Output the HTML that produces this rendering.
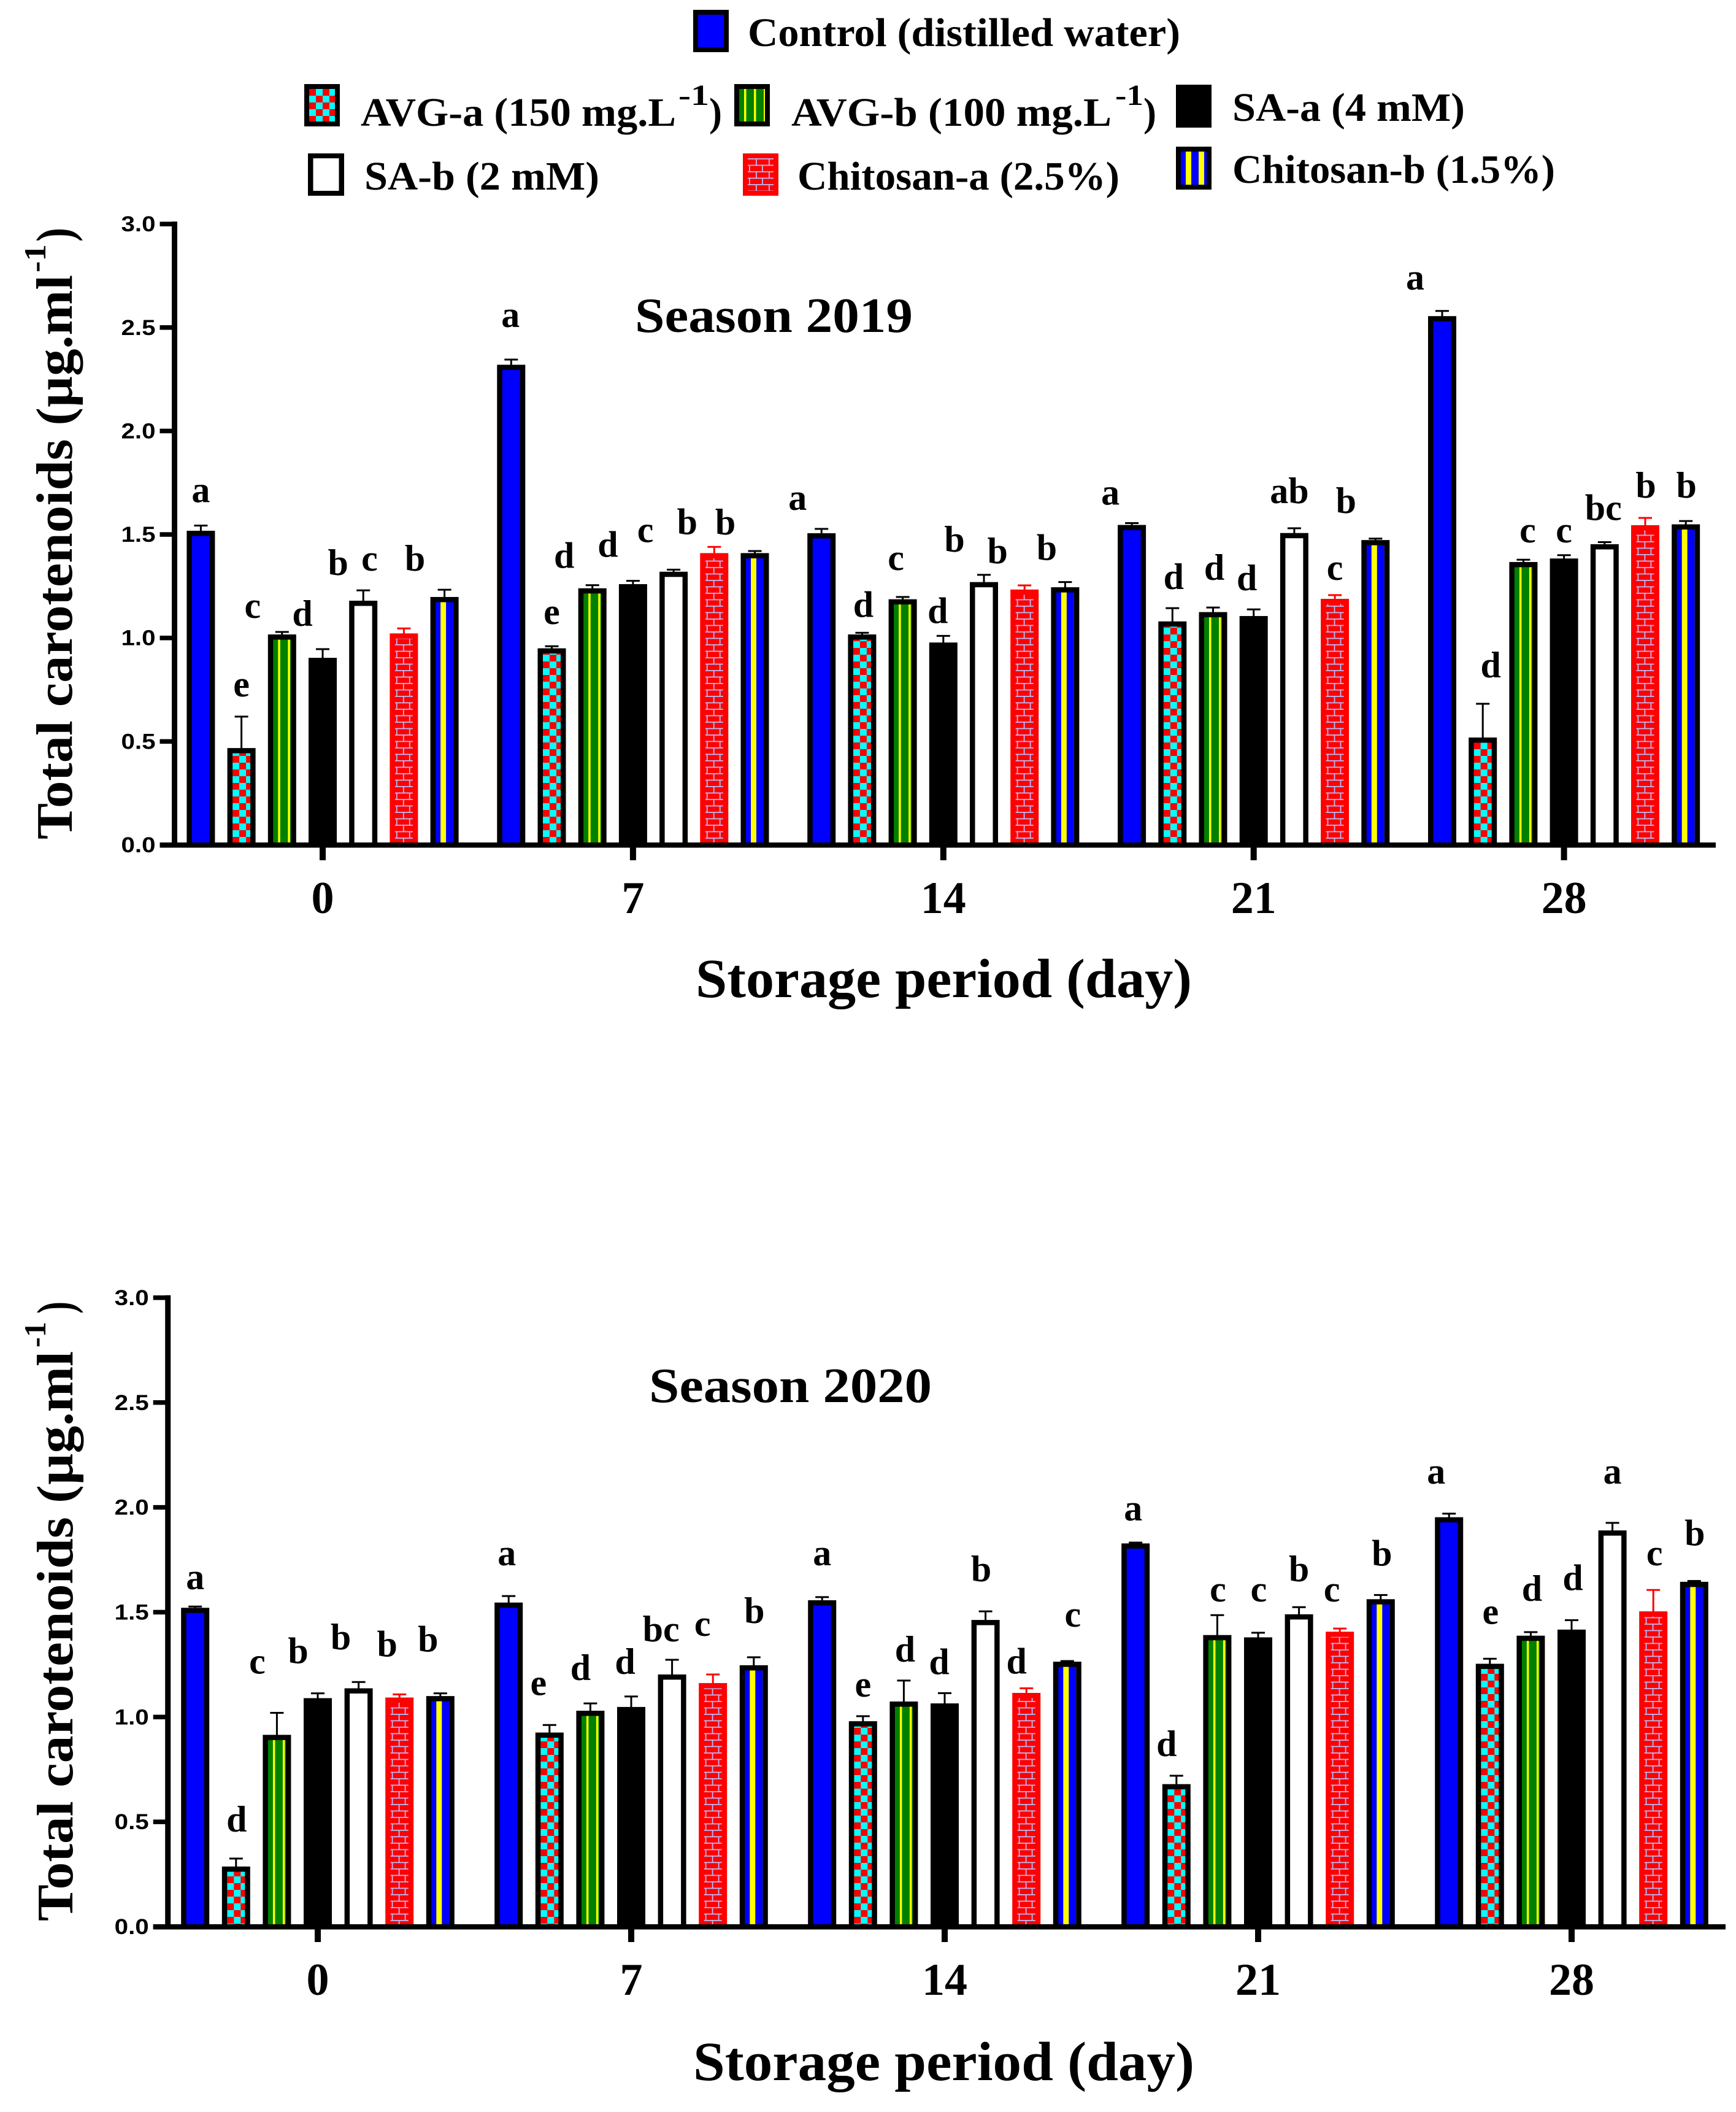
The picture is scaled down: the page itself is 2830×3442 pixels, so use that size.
<!DOCTYPE html>
<html lang="en">
<head>
<meta charset="utf-8">
<title>Total carotenoids by storage period</title>
<style>
html,body{margin:0;padding:0;background:#fff;}
svg{display:block;}
text{font-family:"Liberation Serif",serif;font-weight:bold;fill:#000;}
.tick-y{font-family:"Liberation Sans",sans-serif;font-size:35px;text-anchor:end;}
.tick-x{font-size:74px;text-anchor:middle;}
.letter{font-size:60px;text-anchor:middle;}
.legend-text{font-size:66px;}
.legend-sup{font-size:48px;}
.axis-title{font-size:90px;}
.y-title{font-size:84px;}
.y-sup{font-size:50px;}
.season{font-size:80px;}
</style>
</head>
<body>
<svg id="figure" xmlns="http://www.w3.org/2000/svg" width="2830" height="3442" viewBox="0 0 2830 3442">
  <defs>
    <pattern id="checker" patternUnits="userSpaceOnUse" width="22" height="22">
      <rect width="22" height="22" fill="#00ffff"/>
      <rect x="0" y="0" width="11" height="11" fill="#ff0000"/>
      <rect x="11" y="11" width="11" height="11" fill="#ff0000"/>
    </pattern>
    <pattern id="green-stripes" patternUnits="userSpaceOnUse" width="16" height="16">
      <rect width="16" height="16" fill="#008000"/>
      <rect x="8" y="0" width="3.5" height="16" fill="#ffff00"/>
    </pattern>
    <pattern id="blue-stripes" patternUnits="userSpaceOnUse" width="21" height="21">
      <rect width="21" height="21" fill="#0000ff"/>
      <rect x="8" y="0" width="9" height="21" fill="#ffff00"/>
    </pattern>
    <pattern id="brick" patternUnits="userSpaceOnUse" width="21" height="21">
      <rect width="21" height="21" fill="#ff0000"/>
      <rect x="0" y="0" width="21" height="1.8" fill="#b9b9f5"/>
      <rect x="0" y="10.5" width="21" height="1.8" fill="#b9b9f5"/>
      <rect x="13" y="0" width="1.8" height="10.5" fill="#b9b9f5"/>
      <rect x="2" y="10.5" width="1.8" height="10.5" fill="#b9b9f5"/>
    </pattern>
  </defs>

  <g id="legend">
    <g>
      <rect x="1130" y="16" width="58" height="69" fill="#000"/>
      <rect x="1138" y="24" width="42" height="53" fill="#0000ff"/>
      <text class="legend-text" x="1219" y="75" textLength="705" lengthAdjust="spacingAndGlyphs">Control (distilled water)</text>
    </g>
    <g>
      <rect x="496" y="137" width="58" height="69" fill="#000"/>
      <g transform="translate(504,145)"><rect width="42" height="53" fill="url(#checker)"/></g>
      <text class="legend-text" x="588" y="205" textLength="514" lengthAdjust="spacingAndGlyphs">AVG-a (150 mg.L</text>
      <text class="legend-sup" x="1106" y="171" textLength="50" lengthAdjust="spacingAndGlyphs">-1</text>
      <text class="legend-text" x="1156" y="205" textLength="21" lengthAdjust="spacingAndGlyphs">)</text>
    </g>
    <g>
      <rect x="1197" y="137" width="58" height="69" fill="#000"/>
      <g transform="translate(1205,145)"><rect width="42" height="53" fill="url(#green-stripes)"/></g>
      <text class="legend-text" x="1290" y="205" textLength="522" lengthAdjust="spacingAndGlyphs">AVG-b (100 mg.L</text>
      <text class="legend-sup" x="1818" y="171" textLength="46" lengthAdjust="spacingAndGlyphs">-1</text>
      <text class="legend-text" x="1864" y="205" textLength="21" lengthAdjust="spacingAndGlyphs">)</text>
    </g>
    <g>
      <rect x="1917" y="138" width="58" height="70" fill="#000"/>
      <text class="legend-text" x="2009" y="197" textLength="379" lengthAdjust="spacingAndGlyphs">SA-a (4 mM)</text>
    </g>
    <g>
      <rect x="502" y="250" width="59" height="69" fill="#000"/>
      <rect x="510.5" y="258" width="42" height="53" fill="#fff"/>
      <text class="legend-text" x="594" y="309" textLength="383" lengthAdjust="spacingAndGlyphs">SA-b (2 mM)</text>
    </g>
    <g>
      <rect x="1211" y="250" width="58" height="69" fill="#ff0000"/>
      <g transform="translate(1219,258)"><rect width="42" height="53" fill="url(#brick)"/></g>
      <text class="legend-text" x="1300" y="309" textLength="525" lengthAdjust="spacingAndGlyphs">Chitosan-a (2.5%)</text>
    </g>
    <g>
      <rect x="1917" y="239" width="58" height="70" fill="#000"/>
      <g transform="translate(1925,247)"><rect width="42" height="54" fill="url(#blue-stripes)"/></g>
      <text class="legend-text" x="2009" y="298" textLength="526" lengthAdjust="spacingAndGlyphs">Chitosan-b (1.5%)</text>
    </g>
  </g>

  <text class="season" x="1035" y="541" textLength="453" lengthAdjust="spacingAndGlyphs">Season 2019</text>
  <text class="season" x="1058" y="2285" textLength="461" lengthAdjust="spacingAndGlyphs">Season 2020</text>

  <text class="y-title" transform="translate(117,1368) rotate(-90)" textLength="920" lengthAdjust="spacingAndGlyphs">Total carotenoids (µg.ml</text>
  <text class="y-sup" transform="translate(74,444) rotate(-90)" textLength="46" lengthAdjust="spacingAndGlyphs">-1</text>
  <text class="y-title" transform="translate(117,394) rotate(-90)" textLength="23" lengthAdjust="spacingAndGlyphs">)</text>

  <text class="y-title" transform="translate(118,3131) rotate(-90)" textLength="929" lengthAdjust="spacingAndGlyphs">Total carotenoids (µg.ml</text>
  <text class="y-sup" transform="translate(74,2196) rotate(-90)" textLength="42" lengthAdjust="spacingAndGlyphs">-1</text>
  <text class="y-title" transform="translate(118,2141) rotate(-90)" textLength="20" lengthAdjust="spacingAndGlyphs">)</text>

  <text class="axis-title" x="1134" y="1625" textLength="809" lengthAdjust="spacingAndGlyphs">Storage period (day)</text>
  <text class="axis-title" x="1130" y="3390" textLength="817" lengthAdjust="spacingAndGlyphs">Storage period (day)</text>
</svg>

<script>
// ---------- shared categories and ticks ----------
const categories = ['0', '7', '14', '21', '28'];
const yTickValues = [0, 0.5, 1, 1.5, 2, 2.5, 3];
const yTickLabels = ['0.0', '0.5', '1.0', '1.5', '2.0', '2.5', '3.0'];
const seriesKeys = ['control', 'avg-a', 'avg-b', 'sa-a', 'sa-b', 'chitosan-a', 'chitosan-b'];
const seriesFills = ['#0000ff', 'url(#checker)', 'url(#green-stripes)', '#000000', '#ffffff', 'url(#brick)', 'url(#blue-stripes)'];
const seriesStrokes = ['#000', '#000', '#000', '#000', '#000', '#ff0000', '#000'];

// ---------- Season 2019 means ----------
const control2019 = [1.518, 2.32, 1.506, 1.546, 2.555];
const avgA2019 = [0.468, 0.95, 1.017, 1.08, 0.519];
const avgB2019 = [1.017, 1.24, 1.187, 1.125, 1.367];
const saA2019 = [0.904, 1.26, 0.978, 1.106, 1.384];
const saB2019 = [1.18, 1.32, 1.27, 1.507, 1.453];
const chiA2019 = [1.022, 1.41, 1.234, 1.189, 1.545];
const chiB2019 = [1.198, 1.41, 1.245, 1.473, 1.549];

// ---------- Season 2019 error bars ----------
const controlErr2019 = [0.025, 0.025, 0.021, 0.009, 0.025];
const avgAErr2019 = [0.152, 0.01, 0.008, 0.064, 0.163];
const avgBErr2019 = [0.012, 0.015, 0.011, 0.022, 0.011];
const saAErr2019 = [0.042, 0.016, 0.032, 0.032, 0.016];
const saBErr2019 = [0.05, 0.01, 0.035, 0.023, 0.01];
const chiAErr2019 = [0.024, 0.03, 0.02, 0.018, 0.035];
const chiBErr2019 = [0.035, 0.01, 0.025, 0.007, 0.016];

// ---------- Season 2020 means ----------
const control2020 = [1.521, 1.546, 1.557, 1.828, 1.953];
const avgA2020 = [0.287, 0.926, 0.98, 0.68, 1.254];
const avgB2020 = [0.915, 1.03, 1.074, 1.391, 1.388];
const saA2020 = [1.09, 1.048, 1.065, 1.38, 1.417];
const saB2020 = [1.137, 1.203, 1.463, 1.49, 1.89];
const chiA2020 = [1.093, 1.162, 1.115, 1.407, 1.504];
const chiB2020 = [1.1, 1.247, 1.264, 1.562, 1.645];

// ---------- Season 2020 error bars ----------
const controlErr2020 = [0.006, 0.031, 0.015, 0.004, 0.017];
const avgAErr2020 = [0.038, 0.036, 0.024, 0.04, 0.024];
const avgBErr2020 = [0.105, 0.035, 0.1, 0.095, 0.017];
const saAErr2020 = [0.023, 0.05, 0.049, 0.022, 0.045];
const saBErr2020 = [0.03, 0.07, 0.041, 0.034, 0.036];
const chiAErr2020 = [0.015, 0.041, 0.022, 0.015, 0.102];
const chiBErr2020 = [0.013, 0.038, 0.003, 0.02, 0.004];

// ---------- Significance letters, one row per storage day ----------
const letters2019 = [
  ['a', 'e', 'c', 'd', 'b', 'c', 'b'],
  ['a', 'e', 'd', 'd', 'c', 'b', 'b'],
  ['a', 'd', 'c', 'd', 'b', 'b', 'b'],
  ['a', 'd', 'd', 'd', 'ab', 'c', 'b'],
  ['a', 'd', 'c', 'c', 'bc', 'b', 'b']
];
const letters2020 = [
  ['a', 'd', 'c', 'b', 'b', 'b', 'b'],
  ['a', 'e', 'd', 'd', 'bc', 'c', 'b'],
  ['a', 'e', 'd', 'd', 'b', 'd', 'c'],
  ['a', 'd', 'c', 'c', 'b', 'c', 'b'],
  ['a', 'e', 'd', 'd', 'a', 'c', 'b']
];

// ---------- Annotation offsets from each bar's error cap (layout, not data) ----------
const letterShiftX2019 = [
  [0, 0, -48, -33, -41, -56, -48],
  [-1, 0, -46, -41, -46, -44, -48],
  [-39, 2, -11, -9, -48, -44, -30],
  [-35, 2, 2, -11, -8, 0, -48],
  [-44, 13, 7, 0, -2, 1, 1]
];
const letterShiftY2019 = [
  [-38, -33, -23, -38, -25, -94, -31],
  [-53, -36, -28, -39, -45, -21, -27],
  [-31, -26, -44, -21, -38, -36, -36],
  [-30, -31, -45, -31, -41, -25, -42],
  [-35, -43, -28, -21, -36, -33, -38]
];
const letterShiftX2020 = [
  [0, 1, -32, -32, -29, -20, -20],
  [-3, -18, -16, -10, -18, -17, 1],
  [0, 0, 2, -9, -7, -16, 9],
  [-4, -16, 1, 1, 0, -13, 2],
  [-21, 1, 2, 2, 0, 2, 1]
];
const letterShiftY2020 = [
  [-28, -44, -64, -49, -53, -62, -68],
  [-50, -49, -38, -37, -30, -63, -56],
  [-52, -32, -31, -31, -49, -24, -56],
  [-36, -32, -22, -51, -42, -44, -48],
  [-49, -57, -51, -49, -64, -40, -58]
];

const values2019 = [control2019, avgA2019, avgB2019, saA2019, saB2019, chiA2019, chiB2019];
const errors2019 = [controlErr2019, avgAErr2019, avgBErr2019, saAErr2019, saBErr2019, chiAErr2019, chiBErr2019];
const values2020 = [control2020, avgA2020, avgB2020, saA2020, saB2020, chiA2020, chiB2020];
const errors2020 = [controlErr2020, avgAErr2020, avgBErr2020, saAErr2020, saBErr2020, chiAErr2020, chiBErr2020];

const svg = document.getElementById('figure');
const NS = 'http://www.w3.org/2000/svg';

function make(tag, attrs, parent) {
  const node = document.createElementNS(NS, tag);
  Object.keys(attrs).forEach(function (k) { node.setAttribute(k, attrs[k]); });
  parent.appendChild(node);
  return node;
}

function drawChart(cfg) {
  const yScale = function (v) { return cfg.y0 - v * cfg.yUnit; };
  const groupX = function (i) { return cfg.groupStart + i * cfg.groupStep; };
  const barX = function (i, s) { return groupX(i) + (s - 3) * cfg.barStep; };
  const barWidth = 46;
  const inset = 8.5;

  const chart = make('g', {}, svg);
  
  

  categories.forEach(function (cat, i) {
    seriesKeys.forEach(function (key, s) {
      const value = cfg.values[s][i];
      const err = cfg.errors[s][i];
      const cx = barX(i, s);
      const top = yScale(value);
      const capY = yScale(value + err);
      const strokeColor = seriesStrokes[s];

      const stem = make('rect', { x: cx - 1.5, y: capY, width: 3, height: top - capY + 2, fill: strokeColor }, chart);
      
      

      const cap = make('rect', { x: cx - 11, y: capY - 1.5, width: 22, height: 3, fill: strokeColor }, chart);
      
      

      // Group origin sits at the inner fill's left edge so the pattern phase is the same on every bar.
      const group = make('g', { transform: 'translate(' + (cx - barWidth / 2 + inset) + ',0)' }, chart);
      
      

      const outer = make('rect', { x: -inset, y: top, width: barWidth, height: Math.max(0, cfg.y0 - top), fill: strokeColor }, group);
      
      

      const inner = make('rect', { x: 0, y: top + inset, width: barWidth - 2 * inset, height: Math.max(0, cfg.y0 - top - inset), fill: seriesFills[s] }, group);
      
      

      const letter = make('text', { class: 'letter', x: cx + cfg.shiftX[i][s], y: capY + cfg.shiftY[i][s] }, chart);
      letter.textContent = cfg.letters[i][s];
      
      
    });
  });

  const yAxis = make('rect', { x: cfg.axisX - 4.5, y: yScale(3) - 4, width: 9, height: cfg.y0 - yScale(3) + 8, fill: '#000' }, chart);
  
  

  const xAxis = make('rect', { x: cfg.axisX - 24, y: cfg.y0 - 4, width: cfg.axisEnd - cfg.axisX + 24, height: 8.5, fill: '#000' }, chart);
  
  

  yTickValues.forEach(function (v, t) {
    const mark = make('rect', { x: cfg.axisX - 24, y: yScale(v) - 3.75, width: 24, height: 7.5, fill: '#000' }, chart);
    
    

    const label = make('text', { class: 'tick-y', x: cfg.axisX - 31, y: yScale(v) + 12, textLength: 56, lengthAdjust: 'spacingAndGlyphs' }, chart);
    label.textContent = yTickLabels[t];
    
    
  });

  categories.forEach(function (cat, i) {
    const mark = make('rect', { x: groupX(i) - 5, y: cfg.y0, width: 10, height: 25, fill: '#000' }, chart);
    
    

    const label = make('text', { class: 'tick-x', x: groupX(i), y: cfg.y0 + cfg.xLabelDrop }, chart);
    label.textContent = cat;
    
    
  });
}

drawChart({
  season: '2019', values: values2019, errors: errors2019, letters: letters2019,
  shiftX: letterShiftX2019, shiftY: letterShiftY2019,
  y0: 1377, yUnit: 337.3, groupStart: 526, groupStep: 505.9, barStep: 66.2,
  axisX: 284.5, axisEnd: 2797, xLabelDrop: 111
});
drawChart({
  season: '2020', values: values2020, errors: errors2020, letters: letters2020,
  shiftX: letterShiftX2020, shiftY: letterShiftY2020,
  y0: 3140, yUnit: 341.7, groupStart: 518, groupStep: 511, barStep: 66.6,
  axisX: 273.7, axisEnd: 2813, xLabelDrop: 111
});
</script>
</body>
</html>
